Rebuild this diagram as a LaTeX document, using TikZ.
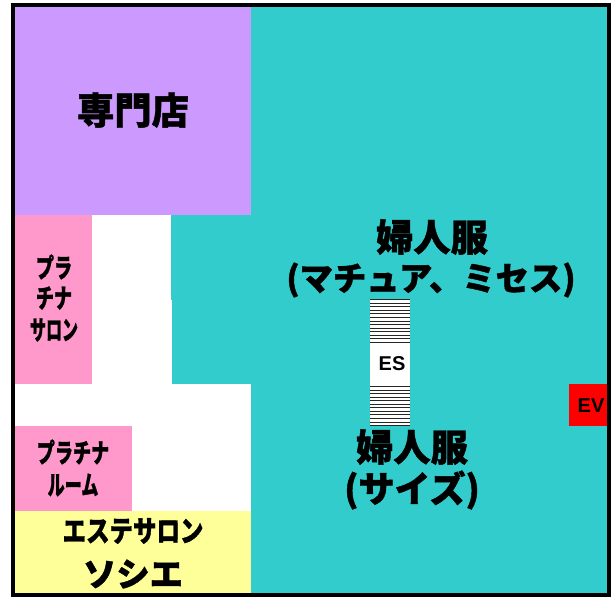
\documentclass[tikz,border=0pt]{standalone}
\usepackage{fontspec}
\newfontfamily\cjk{Noto Sans CJK JP}[BoldFeatures={FakeBold=1.2}]
\setsansfont{Liberation Sans}
\definecolor{teal1}{RGB}{51,204,204}
\definecolor{purp}{RGB}{204,153,255}
\definecolor{pink1}{RGB}{255,153,204}
\definecolor{yell}{RGB}{255,255,153}
\tikzset{x=0.75pt,y=-0.75pt,
 lab/.style={inner sep=0pt,font=\cjk\bfseries\fontsize{#1}{#1}\selectfont},
 lab/.default=24,
 narrow/.style={xscale=0.8},
 slim/.style={xscale=#1},
 latin/.style={inner sep=0pt,font=\sffamily\bfseries\fontsize{15}{15}\selectfont}}
\begin{document}
\begin{tikzpicture}
\useasboundingbox (0,0) rectangle (616,596);
\fill[teal1] (13,5) rectangle (609,595);
\fill[purp] (15,7) rectangle (251,215);
\fill[white] (92,215) rectangle (171,300);
\fill[white] (92,300) rectangle (172,384);
\fill[white] (15,384) rectangle (251,511);
\fill[pink1] (15,215) rectangle (92,384);
\fill[pink1] (15,426) rectangle (132,511);
\fill[yell] (15,511) rectangle (251,593);
\fill[red] (569,384) rectangle (607,426);
\fill[white] (370,299) rectangle (410,426);
\foreach \i in {0,...,12}
  \draw[line width=0.7pt,black!85] (370,299.5+3.58*\i) -- (410,299.5+3.58*\i);
\foreach \i in {0,...,11}
  \draw[line width=0.7pt,black!85] (370,386.5+3.55*\i) -- (410,386.5+3.55*\i);
\draw[line width=3pt] (13,5) rectangle (609,595);
\node[lab=28] (sen) at (133,110) {専門店};
\node[lab=28] (fu1) at (432,237) {婦人服};
\node[lab=25] (ma) at (431,280) {(マチュア、ミセス)};
\node[lab=28] (fu2) at (412,447) {婦人服};
\node[lab=27] (sa) at (412,490) {(サイズ)};
\node[lab=20,slim=0.68] (pa) at (54,267) {プラ};
\node[lab=20,slim=0.68] (pb) at (54,298) {チナ};
\node[lab=20,slim=0.6] (pc) at (54,330) {サロン};
\node[lab=20,slim=0.68] (pd) at (73,452) {プラチナ};
\node[lab=20,slim=0.64] (pe) at (73,485) {ルーム};
\node[lab=22,narrow] (esa) at (133,531) {エステサロン};
\node[lab=25] (esb) at (133,574) {ソシエ};
\node[latin] (es) at (392,364) {ES};
\node[latin] (ev) at (591,406) {EV};
\end{tikzpicture}
\end{document}
